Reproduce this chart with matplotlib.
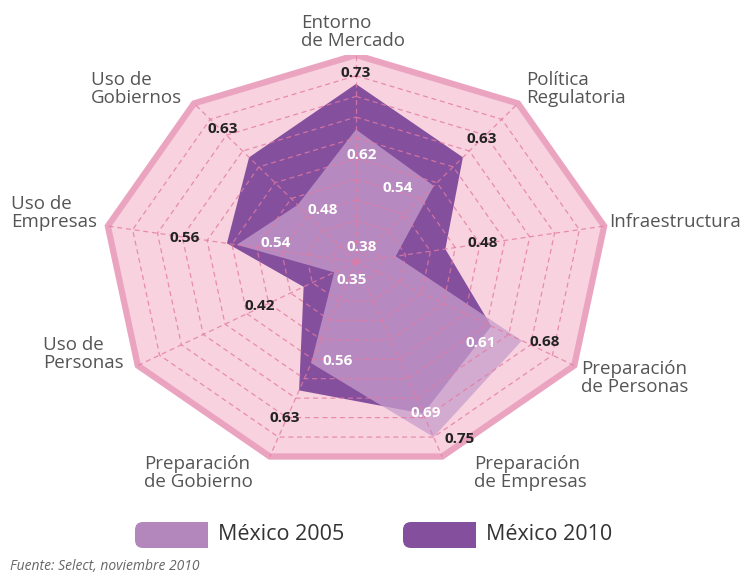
import numpy as np
import matplotlib
matplotlib.use("Agg")
import matplotlib.pyplot as plt
from matplotlib.patches import Polygon, FancyBboxPatch, Rectangle

# ---------------- data ----------------
categories = ["Entorno\nde Mercado", "Política\nRegulatoria", "Infraestructura",
              "Preparación\nde Personas", "Preparación\nde Empresas",
              "Preparación\nde Gobierno", "Uso de\nPersonas", "Uso de\nEmpresas",
              "Uso de\nGobiernos"]
mexico_2010 = [0.73, 0.63, 0.48, 0.61, 0.69, 0.63, 0.42, 0.56, 0.63]   # dark shape
mexico_2005 = [0.62, 0.54, 0.38, 0.68, 0.75, 0.56, 0.35, 0.54, 0.48]   # light shape
series_names = ["México 2005", "México 2010"]
r_min, r_max, r_step = 0.30, 0.80, 0.05
source_note = "Fuente: Select, noviembre 2010"

# ---------------- style ----------------
W, H, DPI = 747, 575, 100
FONT = "Open Sans"
bg_fill = "#f8d2df"
border = "#eba4c0"
grid_col = "#e47aa2"
dark = "#84509e"
light = "#c89fcc"
light_legend = "#b386bc"
text_col = "#555555"

fig = plt.figure(figsize=(W / DPI, H / DPI), dpi=DPI)
fig.patch.set_facecolor("white")

cx, cy, Rh, Rv = 356, 262, 252, 207
ax = fig.add_axes([(cx - Rh) / W, 1 - (cy + Rv) / H, 2 * Rh / W, 2 * Rv / H])
ax.set_xlim(-1, 1)
ax.set_ylim(-1, 1)
ax.axis("off")

n = len(categories)
theta = np.arange(n) * 2 * np.pi / n
sx, sy = np.sin(theta), np.cos(theta)


def frac(v):
    return (np.asarray(v, dtype=float) - r_min) / (r_max - r_min)


def pts(vals):
    f = frac(vals)
    return np.column_stack([f * sx, f * sy])


# background nonagon
ax.add_patch(Polygon(pts([r_max] * n), closed=True, facecolor=bg_fill,
                     edgecolor=border, linewidth=4.5, zorder=1, joinstyle="miter"))

# series shapes
ax.add_patch(Polygon(pts(mexico_2010), closed=True, facecolor=dark,
                     edgecolor="none", zorder=2))
ax.add_patch(Polygon(pts(mexico_2005), closed=True, facecolor=light, alpha=0.75,
                     edgecolor="none", zorder=3))

# dashed grid
levels = np.arange(r_min + r_step, r_max - r_step / 2, r_step)
for lv in levels:
    p = pts([lv] * n)
    p = np.vstack([p, p[:1]])
    ax.plot(p[:, 0], p[:, 1], color=grid_col, lw=0.9, dashes=(4, 3),
            alpha=0.8, zorder=4)
for i in range(n):
    ax.plot([0, sx[i]], [0, sy[i]], color=grid_col, lw=0.9, dashes=(4, 3),
            alpha=0.8, zorder=4)

# value labels (pixel offsets, converted to points)
outer_off = [(0, 11), (19, 18), (37, 6), (23, -1), (26, -2),
             (-14, -28), (-44, -19), (-42, 5), (-26, 28)]
inner_off = [(6, -25), (-36, -2), (-34, 9), (-11, -17), (2, 1),
             (27, 2), (18, -8), (39, 2), (25, -5)]
k = 72.0 / DPI
for i in range(n):
    hi, lo = max(mexico_2010[i], mexico_2005[i]), min(mexico_2010[i], mexico_2005[i])
    phi = pts([hi] * n)[i]
    plo = pts([lo] * n)[i]
    ax.annotate(f"{hi:.2f}", xy=phi, xytext=(outer_off[i][0] * k, outer_off[i][1] * k),
                textcoords="offset points", ha="center", va="center",
                fontsize=11, fontweight="bold", color="#222222",
                family=FONT, zorder=6)
    ax.annotate(f"{lo:.2f}", xy=plo, xytext=(inner_off[i][0] * k, inner_off[i][1] * k),
                textcoords="offset points", ha="center", va="center",
                fontsize=11, fontweight="bold", color="white",
                family=FONT, zorder=6)

# overlay axes in pixel coordinates for labels / legend
ov = fig.add_axes([0, 0, 1, 1], facecolor="none")
ov.set_xlim(0, W)
ov.set_ylim(H, 0)
ov.axis("off")

cat_pos = [(301, 32), (526, 89), (609, 222), (581, 378), (474, 473),
           (144, 473), (43, 354), (11, 213), (91, 89)]
for lab, (x, y) in zip(categories, cat_pos):
    ov.text(x, y, lab, ha="left", va="center", fontsize=13.5, color=text_col,
            family=FONT, linespacing=0.95)

# legend
def swatch(x0, y0, w, h, col):
    ov.add_patch(FancyBboxPatch((x0, y0), w, h,
                                boxstyle="round,pad=0,rounding_size=8",
                                facecolor=col, edgecolor="none"))
    ov.add_patch(Rectangle((x0 + w / 2, y0), w / 2, h, facecolor=col, edgecolor="none"))

swatch(135, 522, 73, 26, light_legend)
ov.text(218, 535, series_names[0], ha="left", va="center", fontsize=15.5,
        color="#333333", family=FONT)
swatch(403, 522, 73, 26, dark)
ov.text(486, 535, series_names[1], ha="left", va="center", fontsize=15.5,
        color="#333333", family=FONT)

ov.text(10, 567, source_note, ha="left", va="center", fontsize=10,
        style="italic", color="#666666", family=FONT)

fig.savefig("out.png", dpi=DPI)
